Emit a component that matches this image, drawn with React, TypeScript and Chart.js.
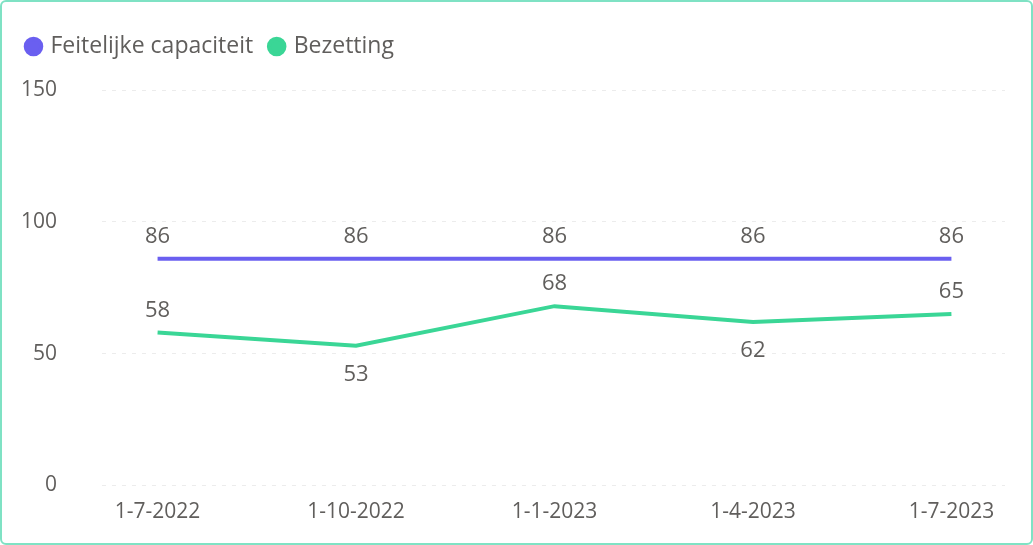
import React, { useEffect, useRef } from "react";
import { Chart, registerables } from "chart.js";

Chart.register(...registerables);

const categories = ["1-7-2022", "1-10-2022", "1-1-2023", "1-4-2023", "1-7-2023"];
const capaciteit = [86, 86, 86, 86, 86];
const bezetting = [58, 53, 68, 62, 65];
const yTicks = [0, 50, 100, 150];

const FONT = "'Open Sans', 'Noto Sans', sans-serif";
const TEXT = "#605e5c";
const PURPLE = "#6a5ff0";
const GREEN = "#3ad696";

const dataLabels = {
  id: "dataLabels",
  afterDatasetsDraw(chart: any) {
    const ctx = chart.ctx;
    ctx.save();
    ctx.font = `22px ${FONT}`;
    ctx.fillStyle = TEXT;
    ctx.textAlign = "center";
    ctx.textBaseline = "middle";
    chart.data.datasets.forEach((ds: any, di: number) => {
      const meta = chart.getDatasetMeta(di);
      const vals = ds.data.map((d: any) => d.y);
      meta.data.forEach((pt: any, i: number) => {
        const v = vals[i];
        const prev = i > 0 ? vals[i - 1] : Infinity;
        const next = i < vals.length - 1 ? vals[i + 1] : Infinity;
        const below = v < prev && v < next;
        const y = below ? pt.y + 29 : pt.y - 22;
        ctx.fillText(String(v), pt.x, y);
      });
    });
    ctx.restore();
  },
};

const legendGap = {
  id: "legendGap",
  beforeInit(chart: any) {
    const orig = chart.legend.fit;
    chart.legend.fit = function () {
      orig.call(this);
      this.height += 22;
    };
  },
};

export default function App() {
  const ref = useRef<HTMLCanvasElement>(null);
  useEffect(() => {
    document.body.style.margin = "0";
    const chart = new Chart(ref.current!, {
      type: "line",
      data: {
        datasets: [
          {
            label: "Feitelijke capaciteit",
            data: capaciteit.map((v, i) => ({ x: i, y: v })),
            borderColor: PURPLE,
            backgroundColor: PURPLE,
            borderWidth: 4,
            pointRadius: 0,
            tension: 0,
          },
          {
            label: "Bezetting",
            data: bezetting.map((v, i) => ({ x: i, y: v })),
            borderColor: GREEN,
            backgroundColor: GREEN,
            borderWidth: 4,
            pointRadius: 0,
            tension: 0,
          },
        ],
      },
      options: {
        animation: false,
        responsive: false,
        maintainAspectRatio: false,
        layout: { padding: { left: 8, right: 26, top: 15, bottom: 9 } },
        plugins: {
          legend: {
            position: "top",
            align: "start",
            labels: {
              usePointStyle: true,
              pointStyle: "circle",
              boxWidth: 11,
              boxHeight: 11,
              padding: 18,
              color: TEXT,
              font: { family: FONT, size: 23 },
            },
          },
          tooltip: { enabled: false },
        },
        scales: {
          x: {
            type: "linear",
            min: -0.28,
            max: 4.27,
            afterBuildTicks: (s: any) => {
              s.ticks = categories.map((_, i) => ({ value: i }));
            },
            ticks: {
              callback: (v: any) => categories[v as number],
              color: TEXT,
              font: { family: FONT, size: 21 },
              maxRotation: 0,
              padding: 6,
            },
            grid: { display: false },
            border: { display: false },
          },
          y: {
            min: 0,
            max: 150,
            afterBuildTicks: (s: any) => {
              s.ticks = yTicks.map((v) => ({ value: v }));
            },
            afterFit: (s: any) => {
              s.width = 92;
            },
            ticks: {
              color: TEXT,
              font: { family: FONT, size: 21 },
              padding: 45,
            },
            grid: { color: "#ececec", lineWidth: 1, drawTicks: false },
            border: { display: false, dash: [4, 6] },
          },
        },
      },
      plugins: [dataLabels, legendGap],
    } as any);
    return () => chart.destroy();
  }, []);
  return (
    <div
      style={{
        position: "relative",
        width: 1033,
        height: 545,
        boxSizing: "border-box",
        border: "2px solid #7fe2c4",
        borderRadius: 6,
        background: "#fff",
        overflow: "hidden",
      }}
    >
      <canvas
        ref={ref}
        width={1029}
        height={541}
        style={{ position: "absolute", left: 0, top: 0 }}
      />
    </div>
  );
}
